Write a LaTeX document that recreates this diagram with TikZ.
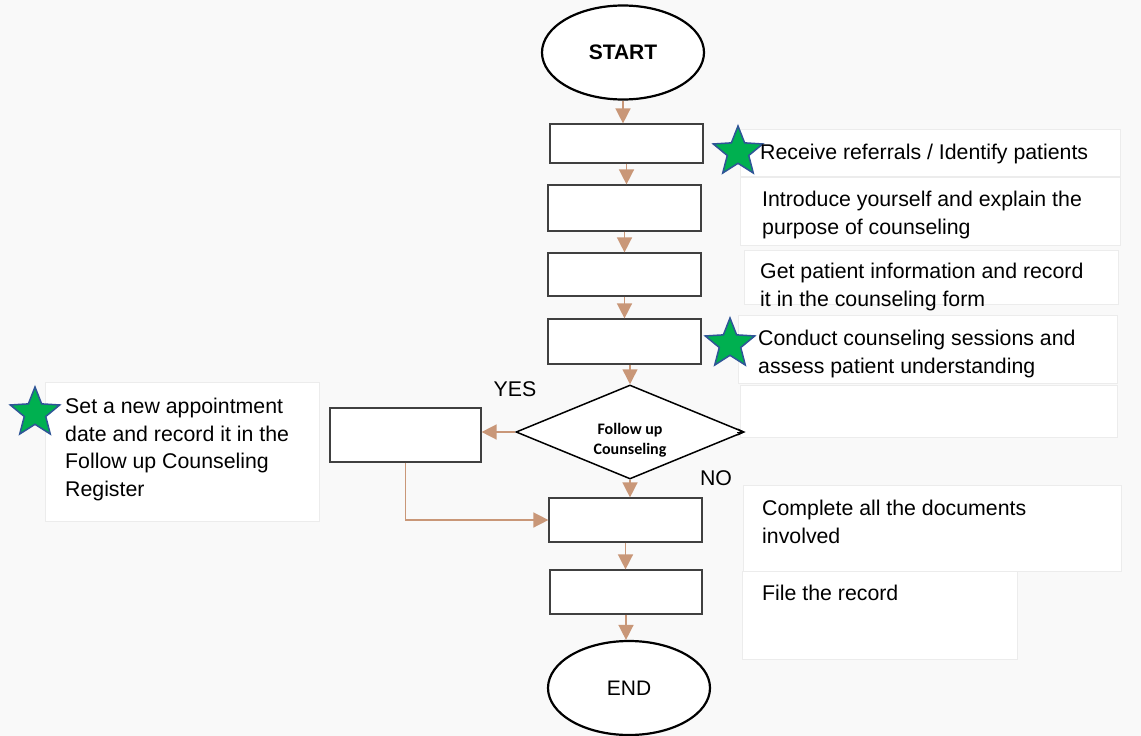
\documentclass[tikz,border=0pt]{standalone}
\usepackage{fontspec}
\setmainfont{Liberation Sans}
\newfontfamily\calibrifont{Carlito}
\usetikzlibrary{arrows.meta,shapes.geometric}
\definecolor{bgcol}{RGB}{249,249,249}
\definecolor{arrowtan}{RGB}{201,151,120}
\definecolor{stargreen}{RGB}{0,176,80}
\definecolor{starblue}{RGB}{47,85,151}
\definecolor{panelline}{RGB}{236,236,236}

\begin{document}
\begin{tikzpicture}[x=1pt,y=-1pt,font=\fontsize{21.3}{27.6}\selectfont,
  stepbox/.style={draw=black!75,line width=1.2pt,fill=white,minimum width=153pt,inner sep=0pt},
  terminal/.style={ellipse,draw=black,line width=2.2pt,fill=white,minimum width=162pt,minimum height=94pt,inner sep=0pt},
  decision/.style={diamond,draw=black,line width=1.5pt,fill=white,minimum width=228pt,minimum height=94pt,inner sep=0pt,aspect=2.4},
  declabel/.style={align=center,inner sep=0pt,font=\calibrifont\bfseries\fontsize{16}{20}\selectfont},
  flow/.style={draw=arrowtan,line width=1.5pt,-{Triangle[width=15pt,length=15pt]}},
  tinyarrow/.style={draw=black,line width=1pt,-{Stealth[width=7pt,length=7pt]}},
  panel/.style={draw=panelline,line width=1pt,fill=white},
  note/.style={anchor=north west,align=left,inner sep=0pt},
  starmark/.style={star,star points=5,star point ratio=2.3,minimum size=52pt,inner sep=0pt,fill=stargreen,draw=starblue,line width=1.5pt}]
\useasboundingbox (0,0) rectangle (1141,736);
\fill[bgcol] (0,0) rectangle (1141,736);
% note panels
\draw[panel] (740,129) rectangle (1120,176);
\draw[panel] (740,177) rectangle (1120,245);
\draw[panel] (744,250) rectangle (1118,304);
\draw[panel] (738,315) rectangle (1117,383);
\draw[panel] (740,385) rectangle (1117,437);
\draw[panel] (743,485) rectangle (1121,571);
\draw[panel] (742,571) rectangle (1017,659);
\draw[panel] (45,382) rectangle (319,521);

\node[terminal,font=\bfseries\fontsize{21}{27}\selectfont] (start) at (623,52.5) {START};
\node[stepbox,minimum height=39pt] (b1) at (626.5,143.5) {};
\node[stepbox,minimum height=46pt] (b2) at (624.5,208) {};
\node[stepbox,minimum height=43pt] (b3) at (624.5,274.5) {};
\node[stepbox,minimum height=45pt] (b4) at (624.5,341.5) {};
\node[decision] (dec) at (630,432) {};
\node[declabel] (dectext) at (630,440) {Follow up\\Counseling};
\node[stepbox,minimum width=151pt,minimum height=54pt] (lbox) at (405.5,435) {};
\node[stepbox,minimum height=44pt] (b5) at (625.5,520) {};
\node[stepbox,minimum width=152pt,minimum height=44pt] (b6) at (626,592) {};
\node[terminal,font=\fontsize{21}{27}\selectfont] (end) at (629,688) {END};

\node (yes) at (515,389) {YES};
\node (no) at (716,478) {NO};

\draw[flow] (start.south) -- (start.south |- b1.north);
\draw[flow] (b1.south) -- (b1.south |- b2.north);
\draw[flow] (b2.south) -- (b2.south |- b3.north);
\draw[flow] (b3.south) -- (b3.south |- b4.north);
\draw[flow] (dec.north |- b4.south) -- (dec.north);
\draw[flow] (dec.south) -- (dec.south |- b5.north);
\draw[flow] (dec.west) -- (dec.west -| lbox.east);
\draw[flow] (lbox.south) |- (b5.west);
\draw[flow] (b5.south) -- (b5.south |- b6.north);
\draw[flow] (b6.south) -- (b6.south |- end.north);
\draw[tinyarrow] ([xshift=-8pt]dec.east) -- (dec.east);

\node[starmark] (s1) at (738,152) {};
\node[starmark] (s2) at (730,344) {};
\node[starmark] (s3) at (35,413) {};

\node[note] (t1) at (760,144) {Receive referrals / Identify patients};
\node[note] (t2) at (762,191) {Introduce yourself and explain the\\purpose of counseling};
\node[note] (t3) at (760,263) {Get patient information and record\\it in the counseling form};
\node[note] (t4) at (758,330) {Conduct counseling sessions and\\assess patient understanding};
\node[note] (t6) at (762,500) {Complete all the documents\\involved};
\node[note] (t7) at (762,585) {File the record};
\node[note] (t8) at (65,398) {Set a new appointment\\date and record it in the\\Follow up Counseling\\Register};
\end{tikzpicture}
\end{document}
